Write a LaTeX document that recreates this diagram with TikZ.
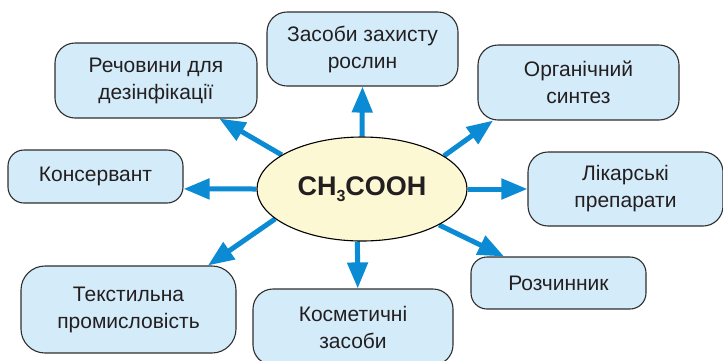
\documentclass[tikz,border=0pt]{standalone}
\usepackage{fontspec}
\setmainfont{Liberation Sans}
\usetikzlibrary{arrows.meta,shapes.geometric}
\definecolor{boxfill}{HTML}{D4EBF9}
\definecolor{ellfill}{HTML}{FDF8D4}
\definecolor{arrowblue}{HTML}{0A8BD3}
\definecolor{edgegray}{HTML}{2E2E2E}
\definecolor{txt}{HTML}{231F20}
\pgfdeclarelayer{background}
\pgfsetlayers{background,main}
\begin{document}
\begin{tikzpicture}[x=1pt,y=-1pt,
  usebox/.style={draw=edgegray,line width=1.1pt,fill=boxfill,rounded corners=20pt,
    align=center,text=txt,font=\fontsize{21}{27}\selectfont,inner sep=0pt},
  flow/.style={draw=arrowblue,line width=5pt,-{Triangle[length=26pt,width=20pt]}}]
\useasboundingbox (0,0) rectangle (723,360);

\node[usebox,minimum width=191pt,minimum height=74pt] (b1) at (362.5,49) {Засоби захисту\\рослин};
\node[usebox,minimum width=202pt,minimum height=75pt] (b2) at (156,80.5) {Речовини для\\дезінфікації};
\node[usebox,minimum width=201pt,minimum height=75pt] (b3) at (578.5,82.5) {Органічний\\синтез};
\node[usebox,rounded corners=16pt,minimum width=175pt,minimum height=53pt] (b4) at (95.5,176.5) {Консервант};
\node[usebox,minimum width=195pt,minimum height=74pt] (b5) at (625.5,189) {Лікарські\\препарати};
\node[usebox,rounded corners=16pt,minimum width=175pt,minimum height=52pt] (b6) at (558.5,283) {Розчинник};
\node[usebox,minimum width=200pt,minimum height=76pt] (b7) at (353,327) {Косметичні\\засоби};
\node[usebox,rounded corners=24pt,minimum width=215pt,minimum height=87pt] (b8) at (128.5,309.5) {Текстильна\\промисловість};

\node[ellipse,draw=black,line width=1.1pt,fill=ellfill,minimum width=210pt,minimum height=104pt,
  inner sep=0pt,text=txt,font=\fontsize{27}{30}\selectfont\bfseries] (c) at (362,189)
  {CH\raisebox{-6pt}{\fontsize{16}{16}\selectfont 3}COOH};

\begin{pgfonlayer}{background}
\draw[flow] (c.90) -- (b1.south);
\draw[flow] (c.157.5) -- (b2.-31);
\draw[flow] (c.22) -- (b3.204);
\draw[flow] (c.180) -- (b4.-8);
\draw[flow] (c.0) -- (b5.west);
\draw[flow] (c.-25) -- (b6.154);
\draw[flow] (c.-95) -- (b7.83);
\draw[flow] (c.199) -- (b8.29);
\end{pgfonlayer}
\end{tikzpicture}
\end{document}
